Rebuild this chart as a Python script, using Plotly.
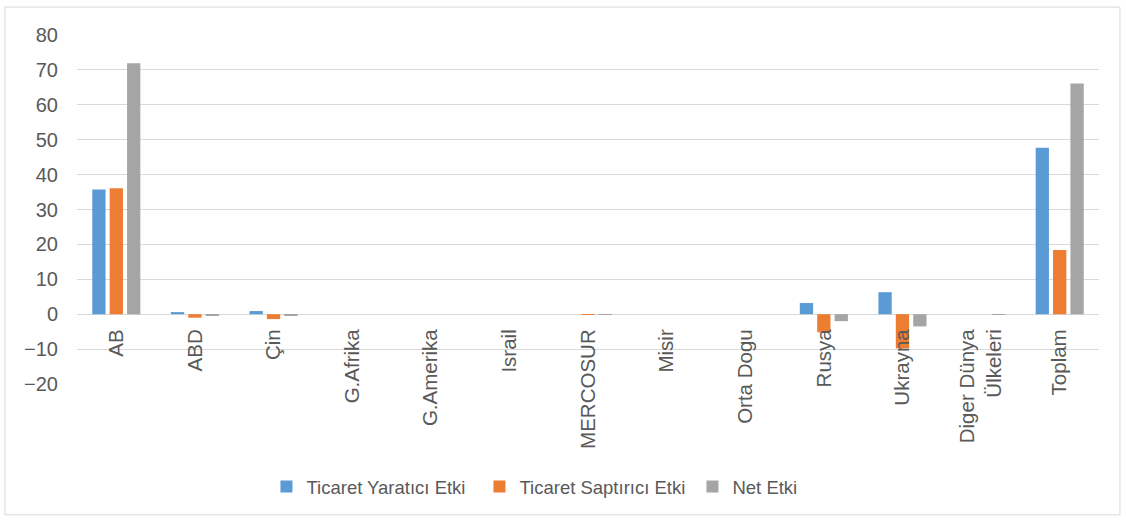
import plotly.graph_objects as go

BLUE = "#5B9BD5"
ORANGE = "#ED7D31"
GREY = "#A5A5A5"
GRID = "#D9D9D9"
TEXT = "#595959"
FONT = "Liberation Sans"

ulkeler = ["AB", "ABD", "Çin", "G.Afrika", "G.Amerika", "Israil", "MERCOSUR",
           "Misir", "Orta Dogu", "Rusya", "Ukrayna", "Diger Dünya<br>Ülkeleri", "Toplam"]
yaratici = [35.7, 0.6, 0.9, 0, 0, 0, 0, 0, 0, 3.2, 6.3, 0, 47.7]
saptirici = [36.1, -1.0, -1.4, 0, 0, 0, -0.2, 0, 0, -5.2, -9.8, 0, 18.4]
net_etki = [71.9, -0.4, -0.5, 0, 0, 0, -0.2, 0, 0, -2.0, -3.5, -0.1, 66.1]
y_ticks = [-20, -10, 0, 10, 20, 30, 40, 50, 60, 70, 80]

fig = go.Figure()
for ad, vals, renk in [("Ticaret Yaratıcı Etki", yaratici, BLUE),
                       ("Ticaret Saptırıcı Etki", saptirici, ORANGE),
                       ("Net Etki", net_etki, GREY)]:
    fig.add_trace(go.Bar(x=ulkeler, y=vals, name=ad, marker=dict(color=renk, line=dict(width=0))))

fig.update_layout(
    width=1126, height=522,
    margin=dict(l=77, r=27, t=35, b=138),
    paper_bgcolor="white", plot_bgcolor="white",
    font=dict(family=FONT, color=TEXT, size=19),
    barmode="group", bargap=0.336, bargroupgap=0.236,
    showlegend=True,
    legend=dict(orientation="h", x=0.498, xanchor="center", y=-0.295, yanchor="middle",
                font=dict(size=18.5, color=TEXT), traceorder="normal", entrywidth=168),
    xaxis=dict(anchor="free", position=0.2, tickangle=-90, showgrid=False, showline=False,
               ticks="", ticklabelstandoff=10, tickfont=dict(size=20.5, color=TEXT)),
    yaxis=dict(range=[-20, 80], tickvals=y_ticks, showgrid=True, gridcolor=GRID, gridwidth=1,
               zeroline=True, zerolinecolor=GRID, zerolinewidth=1, ticks="",
               ticklabelstandoff=18, tickfont=dict(size=20, color=TEXT)),
    shapes=[dict(type="rect", xref="paper", yref="paper", x0=-0.0705, x1=1.0205,
                 y0=-0.375, y1=1.08, line=dict(color=GRID, width=1), layer="below")],
)

# sayfa kenar boşluğunu kaldır
fig.write_html("out.html", config={"displayModeBar": False},
               post_script="document.body.style.margin='0';")
